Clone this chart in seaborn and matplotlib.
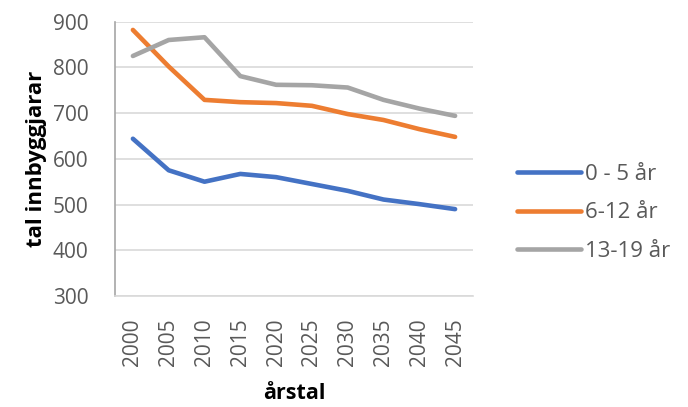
import pandas as pd
import seaborn as sns
import matplotlib.pyplot as plt

years = ["2000", "2005", "2010", "2015", "2020", "2025", "2030", "2035", "2040", "2045"]
age_0_5 = [644, 575, 550, 567, 560, 545, 530, 511, 501, 490]
age_6_12 = [882, 802, 729, 724, 722, 716, 698, 685, 665, 648]
age_13_19 = [825, 860, 866, 781, 762, 761, 756, 729, 710, 694]
groups = ["0 - 5 år", "6-12 år", "13-19 år"]
colors = ["#4472C4", "#ED7D31", "#A5A5A5"]

rows = []
for name, vals in zip(groups, [age_0_5, age_6_12, age_13_19]):
    for y, v in zip(years, vals):
        rows.append({"årstal": y, "tal innbyggjarar": v, "gruppe": name})
df = pd.DataFrame(rows)

sns.set_style("white")
plt.rcParams["font.family"] = ["Open Sans", "DejaVu Sans"]

fig = plt.figure(figsize=(6.88, 4.07), dpi=100)
ax = fig.add_axes([115 / 688, 1 - 296 / 407, (473 - 115) / 688, (296 - 21.7) / 407])

sns.lineplot(data=df, x="årstal", y="tal innbyggjarar", hue="gruppe",
             palette=colors, linewidth=3.3, ax=ax, sort=False)

ax.set_ylim(300, 900)
ax.set_yticks(range(300, 901, 100))
ax.set_xlim(-0.5, len(years) - 0.5)
ax.yaxis.grid(True, color="#D9D9D9", linewidth=1.2)
ax.set_axisbelow(True)
for s in ["top", "right"]:
    ax.spines[s].set_visible(False)
ax.spines["left"].set_color("#A6A6A6")
ax.spines["left"].set_linewidth(1.2)
ax.spines["bottom"].set_color("#D9D9D9")
ax.spines["bottom"].set_linewidth(1.2)
ax.tick_params(axis="both", length=0, colors="#595959", labelsize=15)
ax.tick_params(axis="x", rotation=90, pad=16)
ax.tick_params(axis="y", pad=19)

ax.set_xlabel("årstal", fontsize=15.5, fontweight="bold", color="black", labelpad=12)
ax.set_ylabel("tal innbyggjarar", fontsize=16, fontweight="bold", color="black", labelpad=4)

leg = ax.legend(loc="center left", bbox_to_anchor=(1.123, 0.303), frameon=False,
                borderaxespad=0, borderpad=0,
                fontsize=16, handlelength=2.9, handletextpad=0.15, labelspacing=0.8)
for t in leg.get_texts():
    t.set_color("#595959")
for line in leg.get_lines():
    line.set_linewidth(3.3)

fig.savefig("out.png", dpi=100)
